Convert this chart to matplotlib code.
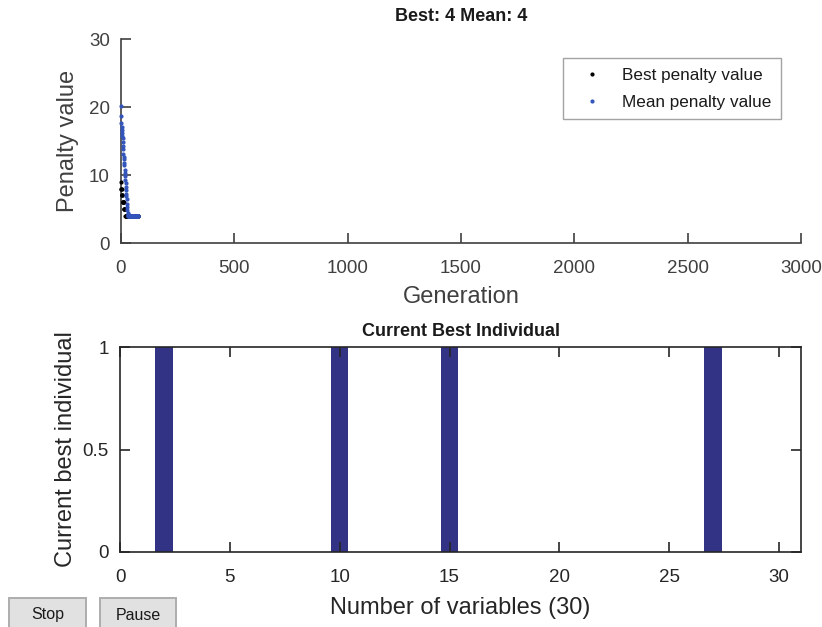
import matplotlib
matplotlib.use("Agg")
import matplotlib.pyplot as plt
from matplotlib.patches import Rectangle

plt.rcParams['font.family'] = ['Liberation Sans', 'DejaVu Sans']

# Genetic algorithm progress: penalty per generation
generations = list(range(76))
best_penalty = [9, 8, 8, 8, 7, 7, 7, 6, 6, 6, 6, 6, 6, 5, 5, 5, 5, 5, 5, 4,
                4, 4, 4, 4, 4, 4, 4, 4, 4, 4, 4, 4, 4, 4, 4, 4, 4, 4, 4, 4,
                4, 4, 4, 4, 4, 4, 4, 4, 4, 4, 4, 4, 4, 4, 4, 4, 4, 4, 4, 4,
                4, 4, 4, 4, 4, 4, 4, 4, 4, 4, 4, 4, 4, 4, 4, 4]
mean_penalty = [20.2, 18.7, 17.6, 17.1, 16.6, 16.2, 15.8, 15.4, 14.9, 14.2,
                13.8, 13.1, 12.6, 12.3, 11.8, 11.4, 10.8, 10.3, 9.9, 9.3,
                8.8, 8.2, 7.8, 7.2, 6.9, 6.4, 5.8, 5.3, 4.8, 4.4,
                4.2, 4.1, 4.0, 4.0, 4.0, 4.0, 4.0, 4.0, 4.0, 4.0,
                4.0, 4.0, 4.0, 4.0, 4.0, 4.0, 4.0, 4.0, 4.0, 4.0,
                4.0, 4.0, 4.0, 4.0, 4.0, 4.0, 4.0, 4.0, 4.0, 4.0,
                4.0, 4.0, 4.0, 4.0, 4.0, 4.0, 4.0, 4.0, 4.0, 4.0,
                4.0, 4.0, 4.0, 4.0, 4.0, 4.0]

# Current best individual (30 binary variables)
variable_index = list(range(1, 31))
best_individual = [0, 1, 0, 0, 0, 0, 0, 0, 0, 1,
                   0, 0, 0, 0, 1, 0, 0, 0, 0, 0,
                   0, 0, 0, 0, 0, 0, 1, 0, 0, 0]

W, H = 822, 627
fig = plt.figure(figsize=(W / 100, H / 100), dpi=100)

def fx(px):
    return px / W

def fy(py):
    return 1 - py / H

TICK_FS = 13.5
LABEL_FS = 17
TITLE_FS = 13

# ---- top panel: penalty vs generation ----
top_col = '#404040'
ax1 = fig.add_axes([fx(121), fy(243), fx(801) - fx(121), fy(39) - fy(243)])
ax1.plot(generations, best_penalty, linestyle='none', marker='.', markersize=4,
         color='black', label='Best penalty value', clip_on=False, zorder=3)
ax1.plot(generations, mean_penalty, linestyle='none', marker='.', markersize=4,
         color='#3355bb', label='Mean penalty value', clip_on=False, zorder=3)
ax1.set_xlim(0, 3000)
ax1.set_ylim(0, 30)
ax1.set_xticks([0, 500, 1000, 1500, 2000, 2500, 3000])
ax1.set_yticks([0, 10, 20, 30])
for s in ['top', 'right']:
    ax1.spines[s].set_visible(False)
for s in ['left', 'bottom']:
    ax1.spines[s].set_color(top_col)
    ax1.spines[s].set_linewidth(1.2)
ax1.tick_params(direction='in', length=7, width=1.2, colors=top_col,
                labelsize=TICK_FS)
ax1.tick_params(axis='x', pad=12)
ax1.tick_params(axis='y', pad=8)
ax1.set_xlabel('Generation', fontsize=LABEL_FS, color=top_col, labelpad=7)
ax1.set_ylabel('Penalty value', fontsize=LABEL_FS, color=top_col, labelpad=7)
ax1.set_title('Best: 4 Mean: 4', fontsize=TITLE_FS, fontweight='bold',
              color='#1a1a1a', pad=13)
leg = ax1.legend(loc='upper right', bbox_to_anchor=(0.9705, 0.905),
                 fontsize=12.3, frameon=True, fancybox=False, markerscale=1.0,
                 handlelength=2.3, handletextpad=0.6, borderpad=0.55,
                 labelspacing=0.7, borderaxespad=0)
leg.get_frame().set_edgecolor('#8c8c8c')
leg.get_frame().set_linewidth(1.0)
for t in leg.get_texts():
    t.set_color('#1a1a1a')

# ---- bottom panel: current best individual ----
bot_col = '#262626'
ax2 = fig.add_axes([fx(120), fy(552), fx(801) - fx(120), fy(347) - fy(552)])
ax2.bar(variable_index, best_individual, width=0.8, color='#333385')
ax2.set_xlim(0, 31)
ax2.set_ylim(0, 1)
ax2.set_xticks([0, 5, 10, 15, 20, 25, 30])
ax2.set_yticks([0, 0.5, 1])
ax2.set_yticklabels(['0', '0.5', '1'])
for s in ax2.spines.values():
    s.set_color(bot_col)
    s.set_linewidth(1.2)
ax2.tick_params(direction='in', length=7, width=1.2, colors=bot_col,
                labelsize=TICK_FS, top=True, right=True)
ax2.tick_params(axis='x', pad=12)
ax2.tick_params(axis='y', pad=8)
ax2.set_xlabel('Number of variables (30)', fontsize=LABEL_FS, color=bot_col,
               labelpad=8)
ax2.set_ylabel('Current best individual', fontsize=LABEL_FS, color=bot_col,
               labelpad=4)
ax2.set_title('Current Best Individual', fontsize=TITLE_FS, fontweight='bold',
              color='#1a1a1a', pad=8)

# ---- control buttons ----
for x0, x1, label in [(9, 86, 'Stop'), (100, 176, 'Pause')]:
    fig.patches.append(Rectangle((fx(x0), fy(628)), fx(x1) - fx(x0), fy(598) - fy(628),
                                 transform=fig.transFigure, facecolor='#e1e1e1',
                                 edgecolor='#adadad', linewidth=1.4))
    fig.text(fx((x0 + x1) / 2), fy(615), label, ha='center', va='center',
             fontsize=11.5, color='#1a1a1a')

fig.savefig('out.png', dpi=100, facecolor='white')
